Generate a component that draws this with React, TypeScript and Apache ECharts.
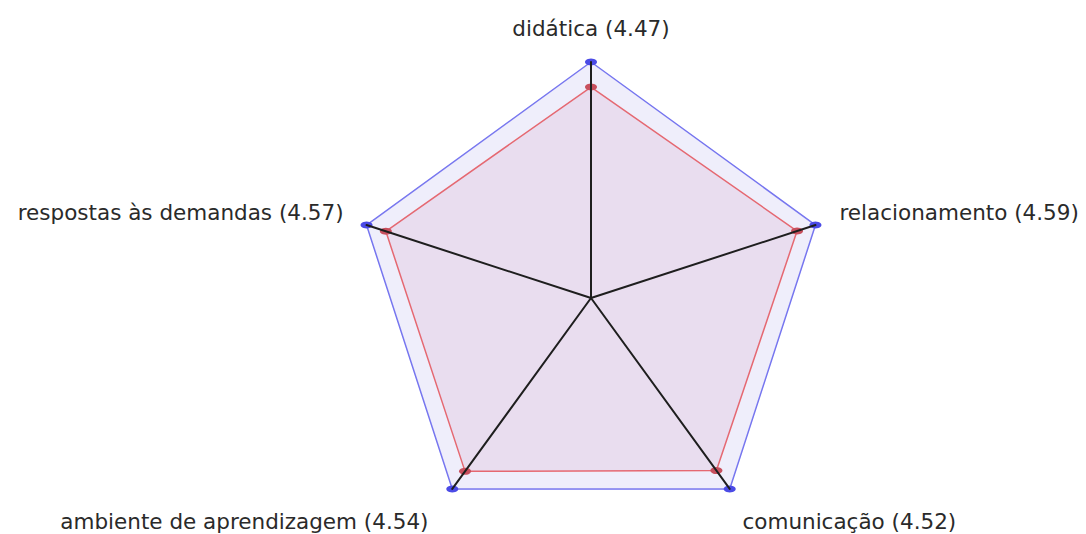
import React, { useEffect, useRef } from "react";
import * as echarts from "echarts";

const indicators = [
  "didática (4.47)",
  "respostas às demandas (4.57)",
  "ambiente de aprendizagem (4.54)",
  "comunicação (4.52)",
  "relacionamento (4.59)",
];
const labelStyles = ["t", "l", "bl", "br", "r"];
const maxValue = 5;
const referenceValues = [5, 5, 5, 5, 5];
const scoreValues = [4.47, 4.57, 4.54, 4.52, 4.59];

const FONT = { fontSize: 21.5, fontFamily: "DejaVu Sans", color: "#2a2a2a" };

export default function App() {
  const ref = useRef<HTMLDivElement>(null);
  useEffect(() => {
    const chart = echarts.init(ref.current!, null, { renderer: "svg" });
    chart.setOption({
      animation: false,
      backgroundColor: "#ffffff",
      radar: {
        z: 3,
        center: [591, 298],
        radius: 236,
        startAngle: 90,
        shape: "polygon",
        splitNumber: 1,
        indicator: indicators.map((name) => ({ name, min: 0, max: maxValue })),
        axisName: {
          ...FONT,
          formatter: (name: string) =>
            `{${labelStyles[indicators.indexOf(name)]}|${name}}`,
          rich: {
            t: { ...FONT, padding: [0, 0, 3, 0] },
            l: { ...FONT, padding: [0, 4, 12, 0] },
            r: { ...FONT, padding: [0, 0, 12, 5] },
            bl: { ...FONT, padding: [32, 12, 0, 0] },
            br: { ...FONT, padding: [32, 0, 0, 1] },
          },
        },
        nameGap: 20,
        axisLine: { lineStyle: { color: "#1e1e1e", width: 2 } },
        splitLine: { show: false },
        splitArea: { show: false },
        axisTick: { show: false },
        axisLabel: { show: false },
      },
      series: [
        {
          type: "radar",
          symbol: "circle",
          symbolSize: [12, 7],
          data: [
            {
              value: referenceValues,
              name: "max",
              itemStyle: { color: "#4b4be6" },
              lineStyle: { color: "#7070f0", width: 1.5 },
              areaStyle: { color: "rgba(180,175,235,0.3)" },
            },
            {
              value: scoreValues,
              name: "score",
              itemStyle: { color: "#c8505e" },
              lineStyle: { color: "#e8686e", width: 1.5 },
              areaStyle: { color: "rgba(200,120,170,0.2)" },
            },
          ],
        },
      ],
    });
    return () => chart.dispose();
  }, []);
  return (
    <div
      ref={ref}
      style={{ position: "absolute", left: 0, top: 0, width: 1086, height: 534 }}
    />
  );
}
